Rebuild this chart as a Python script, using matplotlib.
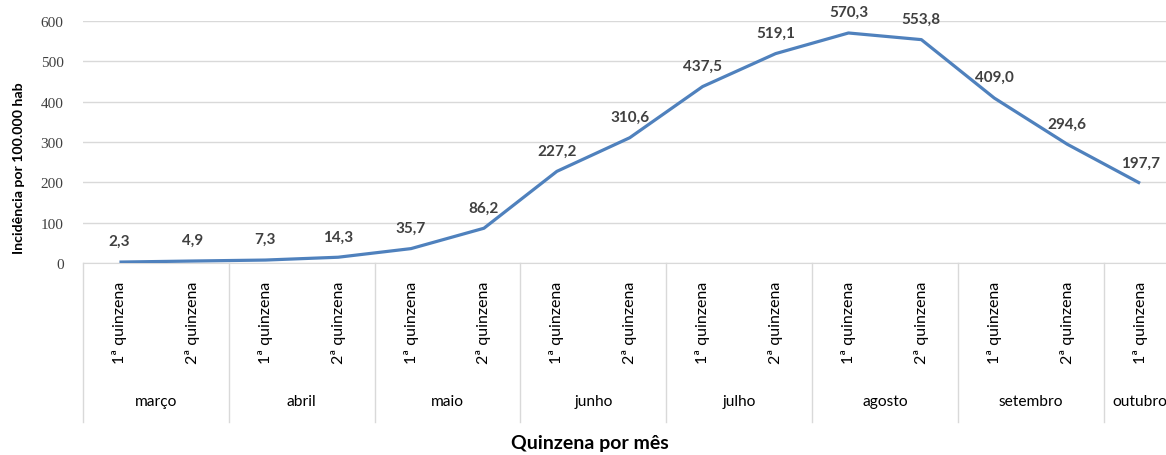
import matplotlib
matplotlib.use("Agg")
import matplotlib.pyplot as plt
import matplotlib.transforms as mtransforms

# data
months = ["março", "abril", "maio", "junho", "julho", "agosto", "setembro", "outubro"]
halves_per_month = [2, 2, 2, 2, 2, 2, 2, 1]
half_labels = ["1ª quinzena", "2ª quinzena"]
incidence = [2.3, 4.9, 7.3, 14.3, 35.7, 86.2, 227.2, 310.6,
             437.5, 519.1, 570.3, 553.8, 409.0, 294.6, 197.7]

LINE = "#4F81BD"
GRID = "#D9D9D9"
TEXT = "#404040"
SANS = "Lato"

fig = plt.figure(figsize=(11.66, 4.56), dpi=100)
ax = fig.add_axes([83 / 1166, 192 / 456, 1093.5 / 1166, 242 / 456])

x = list(range(len(incidence)))
ax.plot(x, incidence, color=LINE, linewidth=2.3, solid_capstyle="butt", zorder=3)

for xi, v in zip(x, incidence):
    ax.annotate(f"{v:.1f}".replace(".", ","), (xi, v), xytext=(0, 15),
                textcoords="offset points", ha="center", va="center",
                fontsize=11, fontweight="bold", color=TEXT, family=SANS)

ax.set_xlim(-0.5, len(incidence) - 0.5)
ax.set_ylim(0, 600)
ax.set_yticks(range(0, 601, 100))
ax.yaxis.grid(True, color=GRID, linewidth=1)
ax.set_axisbelow(True)
for side in ["left", "right", "top"]:
    ax.spines[side].set_visible(False)
ax.spines["bottom"].set_color(GRID)
ax.tick_params(axis="y", length=0, pad=14, labelsize=11, labelcolor=TEXT,
               labelfontfamily="Liberation Serif")

# quinzena tick labels
tick_text = []
for n in halves_per_month:
    tick_text += half_labels[:n]
ax.set_xticks(x)
ax.set_xticklabels(tick_text, rotation=90, fontsize=11.5, color="black", family=SANS)
ax.tick_params(axis="x", length=0, pad=13)

# month row and separators
trans = mtransforms.blended_transform_factory(ax.transData, ax.transAxes)
start = -0.5
bounds = [start]
for m, n in zip(months, halves_per_month):
    ax.text(start + n / 2, -0.57, m, transform=trans, ha="center", va="center",
            fontsize=11.2, color="black", family=SANS)
    start += n
    bounds.append(start)
for b in bounds:
    ax.plot([b, b], [0, -0.655], transform=trans, color=GRID, linewidth=1,
            clip_on=False)

fig.text(19 / 1166, 1 - 168 / 456, "Incidência por 100.000 hab", rotation=90,
         rotation_mode="anchor", ha="center", va="center",
         fontsize=10.2, fontweight="bold", family=SANS)
fig.text(590 / 1166, 1 - 444 / 456, "Quinzena por mês", ha="center", va="center",
         fontsize=14, fontweight="bold", family=SANS)

fig.savefig("out.png", dpi=100)
